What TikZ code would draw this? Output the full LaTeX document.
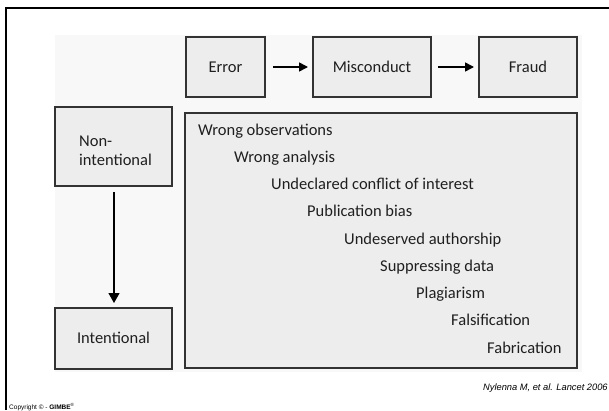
\documentclass[tikz,border=0pt]{standalone}
\usepackage{fontspec}
\setmainfont{Carlito}
\newfontfamily\arialfont{Liberation Sans}
\usetikzlibrary{arrows.meta}
\definecolor{boxfill}{HTML}{EDEDED}
\definecolor{boxline}{HTML}{333333}
\definecolor{panel}{HTML}{F8F8F8}
\begin{document}
\begin{tikzpicture}[x=1pt,y=-1pt,
  boxstyle/.style={draw=boxline,line width=1.4pt,fill=boxfill},
  lbl/.style={font=\fontsize{16.5}{19}\selectfont,inner sep=0pt,text=black!88},
  item/.style={lbl,anchor=base west},
  arr/.style={line width=1.6pt,-{Triangle[length=9pt,width=9pt]}}]
\useasboundingbox (0,0) rectangle (609,410);
\fill[white] (0,0) rectangle (609,410);
% frame
\draw[line width=2.5pt] (6,410) -- (6,8) -- (609,8);
% faint panel
\fill[panel] (55,35) rectangle (582,372);
% top row
\draw[boxstyle] (186,37) rectangle (265,97);
\node[lbl,anchor=base] (err) at (225.5,72) {Error};
\draw[boxstyle] (313,37) rectangle (431,97);
\node[lbl,anchor=base] (mis) at (372,72) {Misconduct};
\draw[boxstyle] (479,37) rectangle (577,97);
\node[lbl,anchor=base] (fra) at (528,72) {Fraud};
\coordinate (a1s) at (273,67); \coordinate (a1e) at (308,67);
\coordinate (a2s) at (438,67); \coordinate (a2e) at (474,67);
\draw[arr] (a1s) -- (a1e);
\draw[arr] (a2s) -- (a2e);
% left column
\draw[boxstyle] (55,107) rectangle (172,186);
\node[lbl,anchor=base west] (non1) at (79,146) {Non-};
\node[lbl,anchor=base west] (non2) at (79,165) {intentional};
\draw[boxstyle] (55,308) rectangle (172,369);
\node[lbl,anchor=base] (int) at (113.5,343) {Intentional};
\coordinate (vs) at (114,192); \coordinate (ve) at (114,303);
\draw[line width=1.2pt,-{Triangle[length=10pt,width=11pt]}] (vs) -- (ve);
% big box
\draw[boxstyle] (185,113) rectangle (577,368);
\node[item] (i1) at (198,135) {Wrong observations};
\node[item] (i2) at (234,162.25) {Wrong analysis};
\node[item] (i3) at (271,189.5) {Undeclared conflict of interest};
\node[item] (i4) at (307,216.75) {Publication bias};
\node[item] (i5) at (344,244) {Undeserved authorship};
\node[item] (i6) at (380,271.25) {Suppressing data};
\node[item] (i7) at (416,298.5) {Plagiarism};
\node[item] (i8) at (451,325.75) {Falsification};
\node[item] (i9) at (487,353) {Fabrication};
% citation
\node[font=\arialfont\itshape\fontsize{9.3}{11}\selectfont,anchor=base west,inner sep=0pt] (cit) at (483,390) {Nylenna M, et al. Lancet 2006};
\node[font=\arialfont\fontsize{6.5}{8}\selectfont,anchor=base west,inner sep=0pt] (copy) at (9,409) {Copyright \textcopyright\ - \textbf{GIMBE}\textsuperscript{\textregistered}};
\end{tikzpicture}
\end{document}
